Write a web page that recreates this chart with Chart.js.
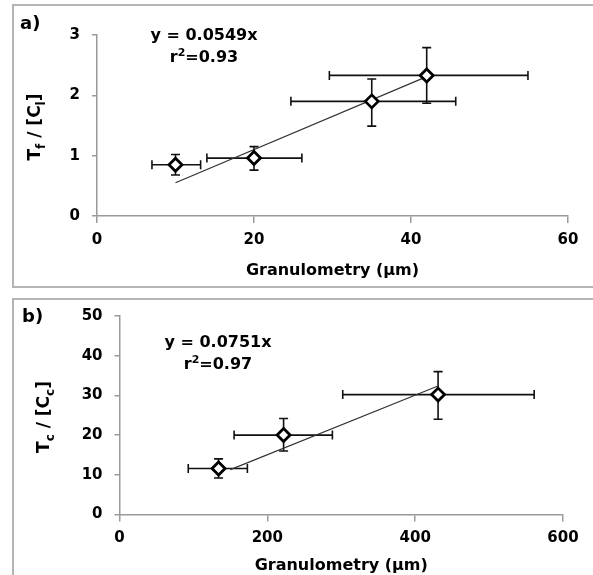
<!DOCTYPE html>
<html><head><meta charset="utf-8">
<script src="https://cdn.jsdelivr.net/npm/chart.js@4.4.0/dist/chart.umd.min.js"></script>
<style>
html,body{margin:0;padding:0;width:593px;height:575px;overflow:hidden;background:#fff;font-family:"DejaVu Sans",sans-serif;}
.panel{position:absolute;border:2px solid #b4b4b4;box-sizing:border-box;}
.lbl{position:absolute;font-weight:bold;color:#000;white-space:nowrap;}
.eq{position:absolute;font-weight:bold;color:#000;white-space:nowrap;text-align:center;font-size:16px;line-height:22px;transform:translateX(-50%);}
.yt{position:absolute;font-weight:bold;color:#000;white-space:nowrap;font-size:17px;transform:translate(-50%,-50%) rotate(-90deg);}
.yt sub{font-size:12px;}
canvas{position:absolute;left:0;}
</style></head><body>
<div class="panel" style="left:12px;top:4px;width:600px;height:284px;"></div>
<div class="panel" style="left:12px;top:298px;width:600px;height:300px;"></div>
<canvas id="ca" width="593" height="287" style="top:0"></canvas>
<canvas id="cb" width="593" height="280" style="top:295px"></canvas>
<div class="lbl" style="left:20px;top:12px;font-size:18px;">a)</div>
<div class="lbl" style="left:22px;top:305px;font-size:18px;">b)</div>
<div class="eq" style="left:204px;top:24px;">y = 0.0549x<br>r<sup style="font-size:11px;line-height:0">2</sup>=0.93</div>
<div class="eq" style="left:218px;top:331px;">y = 0.0751x<br>r<sup style="font-size:11px;line-height:0">2</sup>=0.97</div>
<div class="yt" style="left:36px;top:127px;">T<sub>f</sub> / [C<sub>l</sub>]</div>
<div class="yt" style="left:45px;top:417px;">T<sub>c</sub> / [C<sub>c</sub>]</div>
<script>
// Panel a data
const granA   = [10, 20, 35, 42];
const tfA     = [0.85, 0.96, 1.9, 2.33];
const granALo = [7, 14, 24.7, 29.6];
const granAHi = [13.2, 26.1, 45.7, 54.9];
const tfALo   = [0.68, 0.76, 1.49, 1.87];
const tfAHi   = [1.02, 1.15, 2.27, 2.79];
const trendAX = [10, 42];
const trendAY = [0.55, 2.31];
const ticksAX = [0, 20, 40, 60];
const ticksAY = [0, 1, 2, 3];

// Panel b data
const granB   = [134, 222, 431];
const tcB     = [11.6, 20, 30.2];
const granBLo = [93, 155, 302];
const granBHi = [173, 288, 561];
const tcBLo   = [9.2, 16, 24];
const tcBHi   = [14, 24.2, 36];
const trendBX = [150, 430];
const trendBY = [11.3, 32.3];
const ticksBX = [0, 200, 400, 600];
const ticksBY = [0, 10, 20, 30, 40, 50];

const errorBars = {
  id: 'errorBars',
  beforeDatasetsDraw(chart, args, opts) {
    const {ctx, scales: {x, y}} = chart;
    ctx.save();
    ctx.strokeStyle = '#111';
    ctx.lineWidth = 1.6;
    const cap = 4.5;
    for (let i = 0; i < opts.xs.length; i++) {
      const px = x.getPixelForValue(opts.xs[i]);
      const py = y.getPixelForValue(opts.ys[i]);
      const x1 = x.getPixelForValue(opts.xLo[i]);
      const x2 = x.getPixelForValue(opts.xHi[i]);
      const y1 = y.getPixelForValue(opts.yLo[i]);
      const y2 = y.getPixelForValue(opts.yHi[i]);
      ctx.beginPath();
      ctx.moveTo(x1, py); ctx.lineTo(x2, py);
      ctx.moveTo(x1, py - cap); ctx.lineTo(x1, py + cap);
      ctx.moveTo(x2, py - cap); ctx.lineTo(x2, py + cap);
      ctx.moveTo(px, y1); ctx.lineTo(px, y2);
      ctx.moveTo(px - cap, y1); ctx.lineTo(px + cap, y1);
      ctx.moveTo(px - cap, y2); ctx.lineTo(px + cap, y2);
      ctx.stroke();
    }
    ctx.restore();
  }
};

const tickFont = {family: 'DejaVu Sans', size: 15, weight: 'bold'};
const axisGrey = '#9a9a9a';

function makeChart(id, xs, ys, xLo, xHi, yLo, yHi, tX, tY, xTicks, yTicks, yWidth, xHeight, pad) {
  const toPts = (a, b) => a.map((v, i) => ({x: v, y: b[i]}));
  return new Chart(document.getElementById(id), {
    type: 'scatter',
    data: {
      datasets: [
        {data: toPts(xs, ys), pointStyle: 'rectRot', pointRadius: 6.5, pointHoverRadius: 6.5,
         backgroundColor: '#fff', borderColor: '#000', borderWidth: 2.8, order: 0},
        {data: toPts(tX, tY), showLine: true, pointRadius: 0, borderColor: '#333', borderWidth: 1.2, order: 1}
      ]
    },
    options: {
      responsive: false, animation: false, devicePixelRatio: 1,
      layout: {padding: pad},
      plugins: {legend: {display: false}, tooltip: {enabled: false},
        errorBars: {xs, ys, xLo, xHi, yLo, yHi}},
      scales: {
        x: {type: 'linear', min: xTicks[0], max: xTicks[xTicks.length - 1],
          afterBuildTicks: s => { s.ticks = xTicks.map(v => ({value: v})); },
          afterFit: s => { s.height = xHeight; },
          grid: {drawOnChartArea: false, drawTicks: true, tickLength: 7, color: axisGrey, lineWidth: 1.5},
          border: {display: true, color: axisGrey, width: 1.5},
          ticks: {font: tickFont, color: '#000', padding: 8, maxRotation: 0},
          title: {display: true, text: 'Granulometry (µm)', font: {family: 'DejaVu Sans', size: 16, weight: 'bold'},
            color: '#000', padding: {top: 0, bottom: 0}}
        },
        y: {type: 'linear', min: yTicks[0], max: yTicks[yTicks.length - 1],
          afterBuildTicks: s => { s.ticks = yTicks.map(v => ({value: v})); },
          afterFit: s => { s.width = yWidth; },
          grid: {drawOnChartArea: false, drawTicks: true, tickLength: 5, color: axisGrey, lineWidth: 1.5},
          border: {display: true, color: axisGrey, width: 1.5},
          ticks: {font: tickFont, color: '#000', padding: 12}
        }
      }
    },
    plugins: [errorBars]
  });
}

makeChart('ca', granA, tfA, granALo, granAHi, tfALo, tfAHi, trendAX, trendAY, ticksAX, ticksAY,
  97, 64, {left: 0, top: 35, right: 25, bottom: 7});
makeChart('cb', granB, tcB, granBLo, granBHi, tcBLo, tcBHi, trendBX, trendBY, ticksBX, ticksBY,
  119.5, 60.5, {left: 0, top: 19, right: 30, bottom: 0});
</script>
</body></html>
